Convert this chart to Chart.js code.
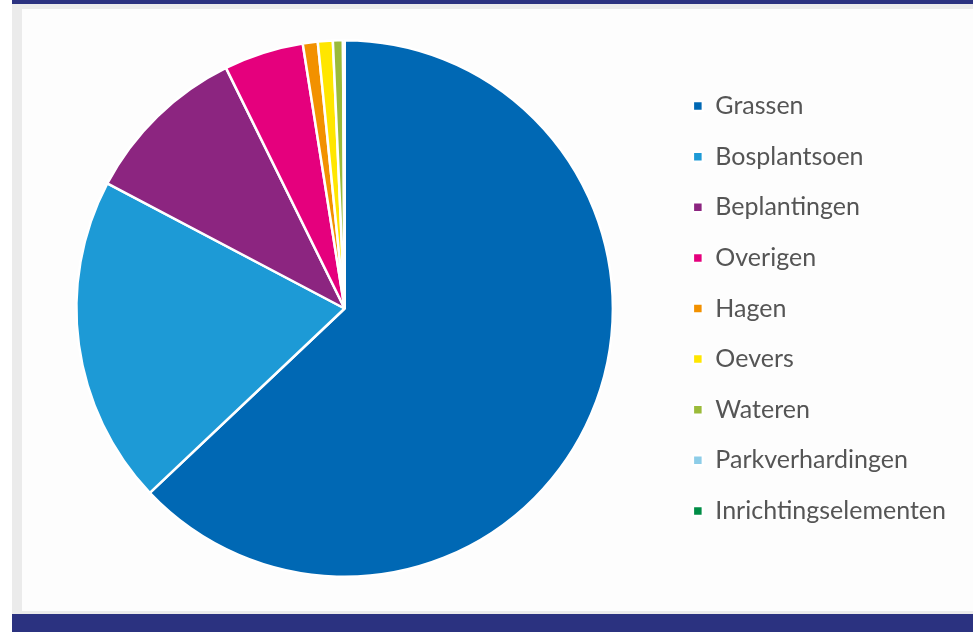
<!DOCTYPE html>
<html>
<head>
<meta charset="utf-8">
<script src="https://cdn.jsdelivr.net/npm/chart.js@4.4.1/dist/chart.umd.min.js"></script>
<style>
  html, body { margin: 0; padding: 0; background: #fff; }
  body { width: 973px; height: 632px; position: relative; overflow: hidden; }
  .band { position: absolute; left: 12px; right: 0; background: #2b3280; }
  #top { top: 0; height: 4px; }
  #bottom { top: 614px; height: 18px; }
  #frame { position: absolute; left: 12px; top: 4px; width: 961px; height: 610px;
           background: #ebebeb; }
  #panel { position: absolute; left: 22px; top: 9px; width: 951px; height: 602px;
           background: #fdfdfd; }
  #wrap { position: absolute; left: 22px; top: 39px; width: 934px; height: 539px; }
</style>
</head>
<body>
<div id="frame"></div>
<div id="panel"></div>
<div class="band" id="top"></div>
<div class="band" id="bottom"></div>
<div id="wrap"><canvas id="pie"></canvas></div>
<script>
const labels = ['Grassen', 'Bosplantsoen', 'Beplantingen', 'Overigen', 'Hagen',
                'Oevers', 'Wateren', 'Parkverhardingen', 'Inrichtingselementen'];
const shares = [63.0, 19.8, 10.0, 4.8, 0.9, 0.9, 0.6, 0.05, 0.05];
const colors = ['#0068b4', '#1d9ad6', '#8c2580', '#e5007d', '#f29100',
                '#ffe600', '#9bbb3a', '#8dcde8', '#008d46'];

const ctx = document.getElementById('pie');

new Chart(ctx, {
    type: 'pie',
    data: {
        labels: labels,
        datasets: [{
            data: shares,
            backgroundColor: colors,
            borderColor: '#ffffff',
            borderWidth: 2.5
        }]
    },
    options: {
        responsive: true,
        maintainAspectRatio: false,
        animation: false,
        layout: { padding: 0 },
        plugins: {
            tooltip: { enabled: false },
            legend: {
                position: 'right',
                labels: {
                    boxWidth: 10,
                    boxHeight: 10,
                    padding: 25.6,
                    color: '#555555',
                    font: { family: 'Lato', size: 25 }
                }
            }
        }
    }
});
</script>
</body>
</html>
